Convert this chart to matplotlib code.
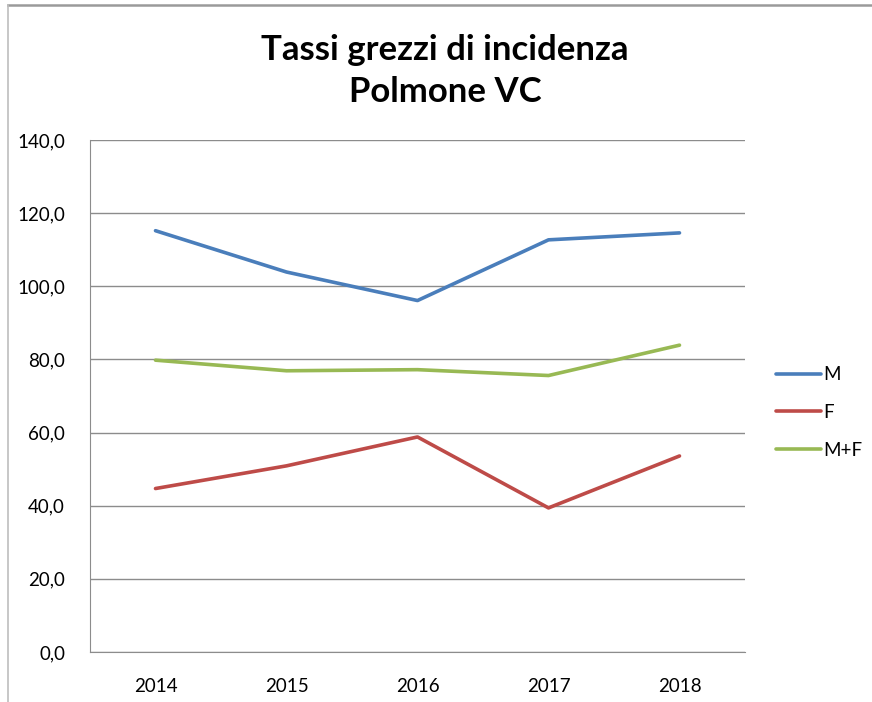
import matplotlib.pyplot as plt
from matplotlib.lines import Line2D

anni = ['2014', '2015', '2016', '2017', '2018']
maschi = [115.2, 103.9, 96.1, 112.7, 114.6]
femmine = [44.7, 50.9, 58.8, 39.4, 53.6]
totale = [79.8, 76.9, 77.2, 75.6, 83.9]
yticks = [0, 20, 40, 60, 80, 100, 120, 140]

plt.rcParams['font.family'] = ['Lato', 'DejaVu Sans']

fig = plt.figure(figsize=(8.72, 7.02), dpi=100)
ax = fig.add_axes([90/872, 50/702, 655/872, 512/702])

x = range(len(anni))
ax.plot(x, maschi, color='#4A7EBB', lw=2.6, label='M', solid_capstyle='round')
ax.plot(x, femmine, color='#BE4B48', lw=2.6, label='F', solid_capstyle='round')
ax.plot(x, totale, color='#98B954', lw=2.6, label='M+F', solid_capstyle='round')

ax.set_xlim(-0.5, len(anni) - 0.5)
ax.set_ylim(0, 140)
ax.set_yticks(yticks)
ax.set_yticklabels([f'{v:.1f}'.replace('.', ',') for v in yticks], fontsize=13.5)
ax.set_xticks(list(x))
ax.set_xticklabels(anni, fontsize=13.5)
ax.tick_params(axis='y', length=0, pad=18)
ax.tick_params(axis='x', length=0, pad=19)
ax.grid(axis='y', color='#8c8c8c', lw=1)
ax.set_axisbelow(True)
for s in ['top', 'right']:
    ax.spines[s].set_visible(False)
for s in ['left', 'bottom']:
    ax.spines[s].set_color('#8c8c8c')

leg = ax.legend(loc='center left', bbox_to_anchor=(1.022, 0.468), frameon=False,
                fontsize=13.5, handlelength=2.4, handletextpad=0.1, labelspacing=1.1)

fig.text(445/872, 1 - 71/702, 'Tassi grezzi di incidenza\nPolmone VC', ha='center',
         va='center', fontsize=25, fontweight='bold', linespacing=1.42)

# cornice esterna (solo bordo superiore e sinistro visibili)
fig.add_artist(Line2D([8/872, 1], [1 - 5/702, 1 - 5/702], transform=fig.transFigure,
                      color='#9a9a9a', lw=1.8))
fig.add_artist(Line2D([8/872, 8/872], [0, 1 - 5/702], transform=fig.transFigure,
                      color='#bdbdbd', lw=1.2))

fig.savefig('out.png', dpi=100)
